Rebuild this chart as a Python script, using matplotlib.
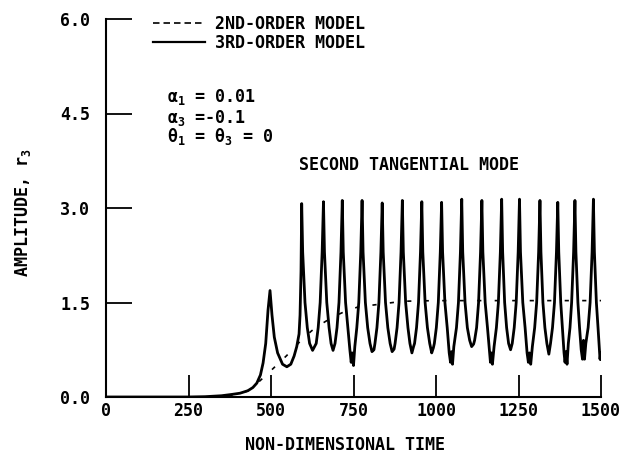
import matplotlib
matplotlib.use("Agg")
import matplotlib.pyplot as plt
from matplotlib.lines import Line2D

plt.rcParams['font.family'] = ['DejaVu Sans Mono', 'DejaVu Sans']
plt.rcParams['font.size'] = 12
plt.rcParams['font.weight'] = 'bold'
plt.rcParams['axes.labelweight'] = 'bold'
plt.rcParams['mathtext.fontset'] = 'custom'
plt.rcParams['mathtext.rm'] = 'DejaVu Sans Mono:bold'
plt.rcParams['mathtext.it'] = 'DejaVu Sans Mono:bold'
plt.rcParams['mathtext.bf'] = 'DejaVu Sans Mono:bold'

# 2nd-order model (dashed)
t_second = [0, 350, 400, 430, 461, 500, 548, 595, 623, 650, 687, 725, 764, 810, 855, 900, 1000, 1500]
r_second = [0, 0.0, 0.03, 0.1, 0.23, 0.42, 0.66, 0.92, 1.05, 1.15, 1.27, 1.36, 1.43, 1.46, 1.49, 1.52, 1.53, 1.53]

# 3rd-order model (solid)
t_third = [
    0, 250, 300, 350, 380, 406, 430, 445, 457, 468, 476, 484, 491, 497,
    503, 510, 520, 535, 548, 560, 570, 578, 585, 588, 591, 593,
    596, 603, 610, 617, 626, 637, 643, 649, 655, 659,
    662, 669, 676, 682, 688, 694, 700, 706, 712, 716,
    719, 726, 733, 739, 743, 746, 750, 754, 760, 766, 772, 776,
    779, 786, 793, 800, 806, 812, 815, 821, 827, 833, 837,
    840, 847, 854, 861, 867, 873, 876, 882, 888, 894, 898,
    901, 908, 915, 921, 927, 932, 935, 941, 947, 953, 957,
    960, 967, 974, 981, 987, 992, 995, 1001, 1007, 1013, 1017,
    1020, 1027, 1034, 1040, 1044, 1047, 1050, 1054, 1062, 1068, 1074, 1078,
    1081, 1088, 1095, 1102, 1108, 1114, 1117, 1123, 1129, 1135, 1139,
    1142, 1149, 1156, 1162, 1165, 1168, 1171, 1176, 1183, 1189, 1195, 1199,
    1202, 1208, 1214, 1220, 1226, 1231, 1237, 1243, 1249, 1253,
    1256, 1263, 1270, 1276, 1280, 1283, 1287, 1292, 1299, 1305, 1311, 1315,
    1318, 1324, 1330, 1336, 1342, 1347, 1353, 1359, 1365, 1369,
    1372, 1378, 1383, 1388, 1391, 1394, 1397, 1401, 1406, 1411, 1417, 1421,
    1424, 1430, 1435, 1440, 1444, 1447, 1450, 1454, 1461, 1467, 1473, 1477,
    1480, 1486, 1491, 1495, 1497, 1499, 1500,
]
r_third = [
    0, 0, 0.005, 0.02, 0.04, 0.06, 0.1, 0.15, 0.22, 0.35, 0.54, 0.85, 1.38, 1.69,
    1.3, 0.95, 0.7, 0.52, 0.48, 0.52, 0.65, 0.8, 1.0, 1.3, 2.0, 3.07,
    2.3, 1.5, 1.1, 0.85, 0.74, 0.85, 1.1, 1.5, 2.3, 3.10,
    2.3, 1.5, 1.1, 0.85, 0.74, 0.85, 1.1, 1.5, 2.3, 3.12,
    2.3, 1.5, 1.1, 0.75, 0.55, 0.7, 0.5, 0.8, 1.1, 1.5, 2.3, 3.12,
    2.3, 1.5, 1.1, 0.85, 0.72, 0.75, 0.85, 1.1, 1.5, 2.3, 3.08,
    2.3, 1.5, 1.1, 0.85, 0.72, 0.76, 0.85, 1.1, 1.5, 2.3, 3.12,
    2.3, 1.5, 1.1, 0.85, 0.7, 0.8, 0.85, 1.1, 1.5, 2.3, 3.10,
    2.3, 1.5, 1.1, 0.85, 0.7, 0.78, 0.85, 1.1, 1.5, 2.3, 3.09,
    2.3, 1.5, 1.1, 0.7, 0.55, 0.72, 0.52, 0.8, 1.1, 1.5, 2.3, 3.14,
    2.3, 1.5, 1.1, 0.9, 0.8, 0.84, 0.9, 1.1, 1.5, 2.3, 3.12,
    2.3, 1.5, 1.1, 0.72, 0.55, 0.7, 0.52, 0.8, 1.1, 1.5, 2.3, 3.14,
    2.3, 1.5, 1.1, 0.85, 0.75, 0.85, 1.1, 1.5, 2.3, 3.14,
    2.3, 1.5, 1.1, 0.7, 0.55, 0.7, 0.52, 0.8, 1.1, 1.5, 2.3, 3.12,
    2.3, 1.5, 1.1, 0.85, 0.68, 0.85, 1.1, 1.5, 2.3, 3.09,
    2.3, 1.5, 1.1, 0.7, 0.55, 0.72, 0.52, 0.85, 1.1, 1.5, 2.3, 3.12,
    2.3, 1.5, 1.1, 0.75, 0.6, 0.9, 0.6, 0.85, 1.1, 1.5, 2.3, 3.14,
    2.3, 1.5, 1.1, 0.75, 0.6, 0.7, 0.6,
]

x_ticks = [0, 250, 500, 750, 1000, 1250, 1500]
y_ticks = [0.0, 1.5, 3.0, 4.5, 6.0]
y_tick_labels = ['0.0', '1.5', '3.0', '4.5', '6.0']
params = [r'$\alpha_1$ = 0.01', r'$\alpha_3$ =-0.1', r'$\theta_1$ = $\theta_3$ = 0']
param_y = [4.76, 4.43, 4.13]

fig = plt.figure(figsize=(6.27, 4.54), dpi=100)
ax = fig.add_axes([106 / 627, 1 - 397 / 454, 495 / 627, 378 / 454])

ax.plot(t_second, r_second, color='black', lw=1.2, linestyle=(0, (2.5, 8)))
ax.plot(t_third, r_third, color='black', lw=2.0)

ax.set_xlim(0, 1500)
ax.set_ylim(0, 6)
ax.set_xticks(x_ticks)
ax.set_yticks(y_ticks)
ax.set_yticklabels(y_tick_labels)
for s in ['top', 'right']:
    ax.spines[s].set_visible(False)
for s in ['left', 'bottom']:
    ax.spines[s].set_linewidth(1.5)
ax.tick_params(axis='y', direction='in', length=18.7, width=1.3, pad=11.5)
ax.tick_params(axis='x', direction='in', length=16, width=1.3, pad=3.5)

ax.set_xlabel('NON-DIMENSIONAL TIME', va='center')
ax.xaxis.set_label_coords(0.483, -0.127)
ax.set_ylabel('AMPLITUDE, r$_3$', va='center')
ax.yaxis.set_label_coords(-0.168, 0.487)

for txt, yy in zip(params, param_y):
    ax.text(185, yy, txt, ha='left', va='center')
ax.text(585, 3.68, 'SECOND TANGENTIAL MODE', ha='left', va='center')

handles = [Line2D([], [], color='black', lw=1.2, linestyle=(0, (3.9, 2.4))),
           Line2D([], [], color='black', lw=1.6)]
ax.legend(handles, ['2ND-ORDER MODEL', '3RD-ORDER MODEL'], loc='upper left',
          bbox_to_anchor=(153 / 627, 1 - 15 / 454), bbox_transform=fig.transFigure,
          frameon=False, borderpad=0, borderaxespad=0, handlelength=3.1,
          handletextpad=0.6, labelspacing=0.05)

fig.savefig('out.png', dpi=100)
